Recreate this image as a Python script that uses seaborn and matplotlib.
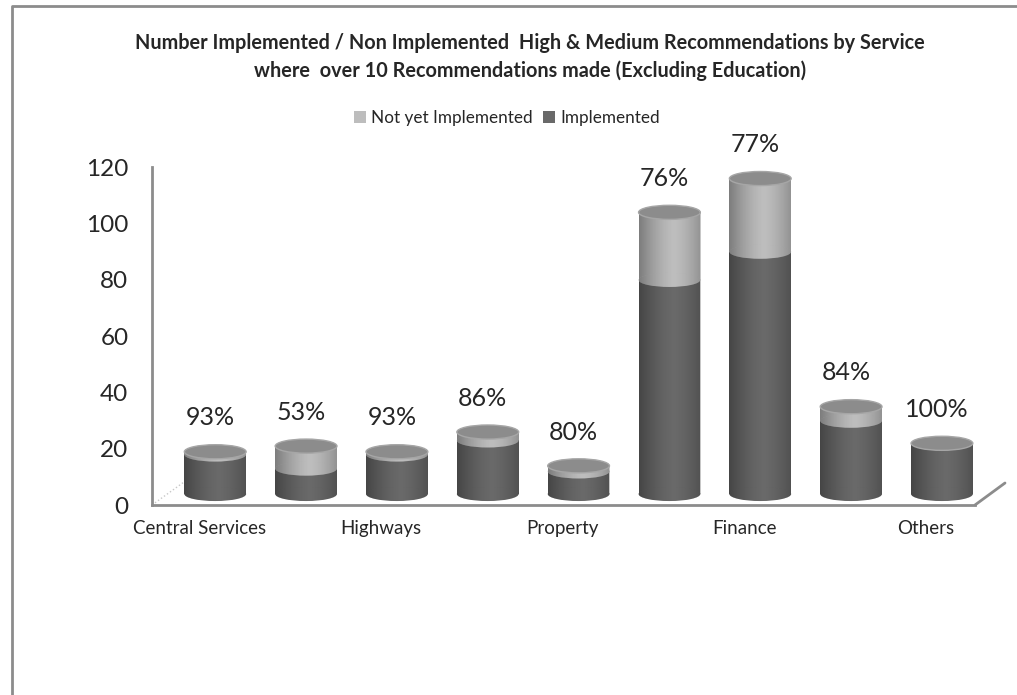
"""Implemented / not implemented recommendations by service (3D cylinder look)."""
import matplotlib.pyplot as plt
import matplotlib.transforms as mtransforms
import numpy as np
import pandas as pd
import seaborn as sns
from matplotlib.lines import Line2D
from matplotlib.patches import Ellipse

services = ["Central Services", "Service 2", "Highways", "Service 4", "Property",
            "Service 6", "Finance", "Service 8", "Others"]
shown_labels = ["Central Services", "", "Highways", "", "Property",
                "", "Finance", "", "Others"]
implemented = [14, 9, 14, 19, 8, 76, 86, 26, 18]
not_implemented = [1, 8, 1, 3, 2, 24, 26, 5, 0]
y_ticks = [0, 20, 40, 60, 80, 100, 120]

DARK = "#696969"
LIGHT = "#bdbdbd"
TOP = "#8c8c8c"
AXIS_GREY = "#8c8c8c"

df = pd.DataFrame({"service": services,
                   "implemented": implemented,
                   "not_implemented": not_implemented})
df["total"] = df["implemented"] + df["not_implemented"]
df["pct"] = (df["implemented"] / df["total"] * 100).round().astype(int)

sns.set_style("white")
plt.rcParams["font.family"] = ["Lato", "DejaVu Sans"]

fig = plt.figure(figsize=(10.17, 6.95), dpi=100)
ax = fig.add_axes([152 / 1017, 1 - 505 / 695, 823 / 1017, 338 / 695])

width = 0.68
sns.barplot(data=df, x="service", y="total", color=LIGHT, saturation=1,
            width=width, label="Not yet Implemented", ax=ax, zorder=2)
n_bars = len(ax.patches)
sns.barplot(data=df, x="service", y="implemented", color=DARK, saturation=1,
            width=width, label="Implemented", ax=ax, zorder=2)

# 3D depth: cylinders sit a little behind the front edge of the floor
depth = mtransforms.ScaledTranslation(0.16, 0.11, fig.dpi_scale_trans)
tr = ax.transData + depth

# horizontal shading so the bars read as cylinders
u = np.linspace(0, 1, 64)
shade = np.zeros((1, 64, 4))
shade[0, :, 3] = 0.34 * np.clip(np.abs(u - 0.57) / 0.57, 0, 1) ** 1.5


def shade_patch(patch, x0, x1, y0, y1, z):
    im = ax.imshow(shade, extent=(x0, x1, y0, y1), aspect="auto",
                   transform=tr, zorder=z, interpolation="bilinear")
    im.set_clip_path(patch)


for k, p in enumerate(list(ax.patches)):
    p.set_transform(tr)
    p.set_edgecolor("none")
    if k < n_bars:  # the full-height bar carries the shading for the body
        x0 = p.get_x()
        shade_patch(p, x0, x0 + p.get_width(), -5, p.get_height() + 5, 2.5)

ell_h = 5.0
for i, row in df.iterrows():
    base = Ellipse((i, 0), width, ell_h, color=DARK, lw=0, transform=tr,
                   zorder=3, clip_on=False)
    ax.add_patch(base)
    shade_patch(base, i - width / 2, i + width / 2, -5, 5, 3.1)
    if row["not_implemented"] > 0:
        mid = Ellipse((i, row["implemented"]), width, ell_h, color=LIGHT, lw=0,
                      transform=tr, zorder=3, clip_on=False)
        ax.add_patch(mid)
        shade_patch(mid, i - width / 2, i + width / 2,
                    row["implemented"] - 5, row["implemented"] + 5, 3.1)
    ax.add_patch(Ellipse((i, row["total"]), width, ell_h, facecolor=TOP,
                         edgecolor="#a6a6a6", lw=1, transform=tr, zorder=4,
                         clip_on=False))
    lab_tr = ax.transData + mtransforms.ScaledTranslation(0.11, 0.11, fig.dpi_scale_trans)
    ax.text(i, row["total"] + 12, f"{row['pct']}%", ha="center", va="center",
            fontsize=18, transform=lab_tr, clip_on=False)

ax.set_xlim(-0.52, 8.54)
ax.set_ylim(0, 120)
ax.set_yticks(y_ticks)
ax.set_xticks(range(len(services)))
ax.set_xticklabels(shown_labels)
ax.set_xlabel("")
ax.set_ylabel("")
ax.tick_params(axis="y", length=0, pad=17, labelsize=17.5)
ax.tick_params(axis="x", length=0, pad=11, labelsize=13.5)
sns.despine(ax=ax)
for side in ["left", "bottom"]:
    ax.spines[side].set_color(AXIS_GREY)
    ax.spines[side].set_linewidth(2)

# floor edges
ax.plot([1, 1 + 30 / 823], [0, 22 / 338], transform=ax.transAxes,
        color=AXIS_GREY, lw=2, clip_on=False)
ax.plot([0, 32 / 823], [0, 23 / 338], transform=ax.transAxes,
        color="#c8c8c8", lw=1, ls=":", clip_on=False)

ax.legend(loc="center", bbox_to_anchor=(0.4985, 0.830),
          bbox_transform=fig.transFigure, ncol=2, frameon=False, fontsize=12.3,
          handlelength=0.7, handleheight=0.7, handletextpad=0.3,
          columnspacing=0.6)

fig.text(0.521, 0.918,
         "Number Implemented / Non Implemented  High & Medium Recommendations by Service\n"
         "where  over 10 Recommendations made (Excluding Education)",
         ha="center", va="center", fontsize=14.3, fontweight="bold",
         linespacing=1.45)

# chart frame (top and left edges)
fig.add_artist(Line2D([12 / 1017, 12 / 1017, 1], [0, 1 - 6 / 695, 1 - 6 / 695],
                      transform=fig.transFigure, color=AXIS_GREY, lw=2))

fig.savefig("out.png", dpi=100)
